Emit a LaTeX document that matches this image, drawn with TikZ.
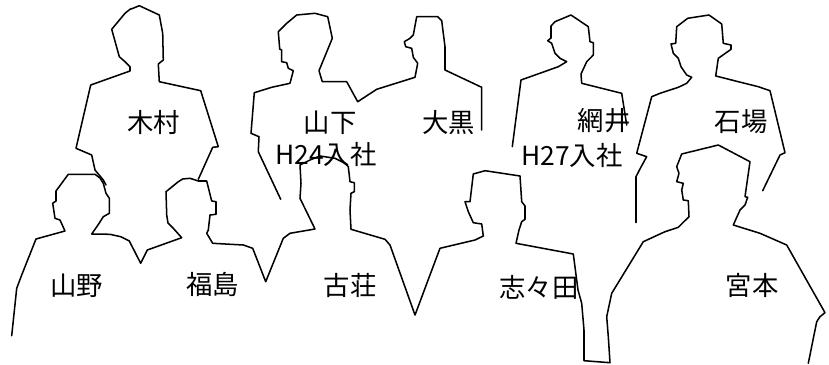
\documentclass[tikz,border=0pt]{standalone}
\usepackage{fontspec}
\setmainfont{Noto Sans CJK JP}
\begin{document}
\begin{tikzpicture}[x=0.03cm, y=-0.03cm,
    silhouette/.style={line width=1.3pt, line join=round, line cap=round},
    person/.style={inner sep=0pt, font=\fontsize{22.5}{26}\selectfont}]
    \useasboundingbox (0,0) rectangle (829,365);
    % back row
    \draw[silhouette] (106,185) -- (103.3,180) -- (95,170) -- (91.7,155) -- (76,148.3) -- (90.7,85) -- (130,71) -- (130,66.7) -- (125,61.7) -- (119.3,56.7) -- (111.7,29.3) -- (125,13.3) -- (130,9.3) -- (133,8.3) -- (139.3,5.7) -- (159.3,15) -- (162.7,33.3) -- (163.3,60) -- (158.3,64) -- (159.3,81.7) -- (200.7,90.7) -- (218.3,146.7) -- (212.7,147.3) -- (198.3,179.3);
    \draw[silhouette] (280.7,199.3) -- (258.3,151.7) -- (259,136.7) -- (251,133.3) -- (254.3,92.7) -- (271.7,87.3) -- (290,83.3) -- (293.3,70.7) -- (288.3,68.3) -- (286.7,62.7) -- (281.7,61.7) -- (281.7,50) -- (279.7,49) -- (278.3,31.7) -- (286.7,23.3) -- (296.7,15) -- (315,13.3) -- (327.7,16.7) -- (332.3,38.3) -- (319,70.7) -- (322.3,81.7) -- (346.7,81.7) -- (357.7,101.7) -- (376.7,89.3) -- (415,77.3) -- (417.7,63.3) -- (413.3,57.3) -- (411.7,48.3) -- (405.7,46.7) -- (404.3,41.7) -- (410,38.3) -- (413.3,35) -- (416.7,16.7) -- (437.7,16.7) -- (441.7,20.7) -- (445,46.7) -- (445,70) -- (481.7,87.3) -- (481.7,130);
    \draw[silhouette] (512.3,146.7) -- (521,80) -- (558.3,66.7) -- (566.7,61.7) -- (560,58.3) -- (555,53.3) -- (551.7,43.3) -- (547.7,40.7) -- (551,38) -- (551,26) -- (555,21.7) -- (571,15) -- (588.3,26.7) -- (590,41.7) -- (593.3,42.7) -- (593.3,55) -- (586.7,61.7) -- (581,74) -- (581.7,83.3) -- (621.7,93.3) -- (626.7,125);
    \draw[silhouette] (636,222.7) -- (636,176.7) -- (641,167) -- (646.7,156.7) -- (636.7,153.3) -- (651.7,96.7) -- (660,93.3) -- (678.3,87.3) -- (686.7,83.3) -- (691.7,77.3) -- (686.7,75) -- (681,66.7) -- (678.3,58.3) -- (673.3,53.3) -- (671,44) -- (675.7,43.3) -- (676.7,26.7) -- (687.7,18.3) -- (709,15) -- (721.7,24) -- (723.3,43.3) -- (731,45) -- (731,49.3) -- (718.3,58.3) -- (715.7,76) -- (758.3,86.7) -- (770,90.7) -- (785,152.7) -- (780,155) -- (762.7,190.7);
    % front row
    \draw[silhouette] (11.7,335.7) -- (16.7,288.3) -- (21.7,275) -- (36,239) -- (65,231) -- (60,220) -- (55,218.3) -- (52.7,203.3) -- (56,201) -- (56,191) -- (68.3,174.3) -- (95,174.3) -- (100,178) -- (103.3,183.3) -- (106,193.3) -- (109.3,198.3) -- (109.3,213.3) -- (103.3,216.7) -- (98,225) -- (91.7,234) -- (110,234.3) -- (120.7,236.7) -- (129.3,241) -- (140.7,263.3) -- (147.3,250) -- (181.7,237.7) -- (173.3,228.3) -- (168,223) -- (166.7,215) -- (166,191.7) -- (178.3,181.7) -- (182.7,179) -- (190,178.3) -- (198.3,181) -- (206.7,181) -- (211.7,201) -- (216,201.7) -- (216,214.3) -- (210,215) -- (208.3,230) -- (206.7,233.3) -- (212.7,243.3) -- (243.3,245) -- (252.7,248.3) -- (265.7,281.7) -- (283.3,238.3) -- (290,233.3) -- (315,229) -- (300,198.3) -- (301,183.3) -- (300,165) -- (310,160) -- (320,156) -- (335,158.3) -- (345,163.3) -- (348.3,166.7) -- (350,181.7) -- (354.3,182.7) -- (354.3,191.7) -- (351,193.3) -- (350,210) -- (351,229.3) -- (385,239.3) -- (390,245) -- (415,315) -- (440,248.3) -- (475,240) -- (483.3,236) -- (481.7,224) -- (473.3,222.7) -- (468.3,211.7) -- (465,201.7) -- (470,201.7) -- (473.3,174) -- (485,170.7) -- (520,176) -- (521.7,201.7) -- (525,206) -- (525,219.3) -- (521.7,221.7) -- (519,230) -- (516,243.3) -- (573.3,254) -- (578,290) -- (581.7,303.3) -- (584,330) -- (584,360.7) -- (610,362.7) -- (608.3,336.7) -- (606.7,316.7) -- (611.7,293.3) -- (643.3,241.7) -- (665,231.7) -- (678.3,227.3) -- (689,216.7) -- (688.3,200.7) -- (683.3,200) -- (681.7,190) -- (683.3,183.3) -- (676.7,181.7) -- (679,173.3) -- (676.7,166.7) -- (681.7,154) -- (718.3,145) -- (750,161.7) -- (745,196.7) -- (747.7,197.3) -- (745,205) -- (740,210) -- (733.3,225) -- (760,233.3) -- (786.7,245) -- (825,312.7) -- (820,316.7) -- (816.7,321.7) -- (808.3,363.3);
    % names
    \node[person] (kimura) at (153.5,122.5) {木村};
    \node[person] (yamashita) at (330,122.5) {山下};
    \node[person] (yamashitaYear) at (326,154) {H24入社};
    \node[person] (oguro) at (448.5,122.5) {大黒};
    \node[person] (amii) at (604,121) {網井};
    \node[person] (amiiYear) at (572,155) {H27入社};
    \node[person] (ishiba) at (741,122) {石場};
    \node[person] (yamano) at (76.5,286) {山野};
    \node[person] (fukushima) at (212.5,284.5) {福島};
    \node[person] (kosho) at (350,285) {古荘};
    \node[person] (shida) at (539,287) {志々田};
    \node[person] (miyamoto) at (752,285) {宮本};
\end{tikzpicture}
\end{document}
